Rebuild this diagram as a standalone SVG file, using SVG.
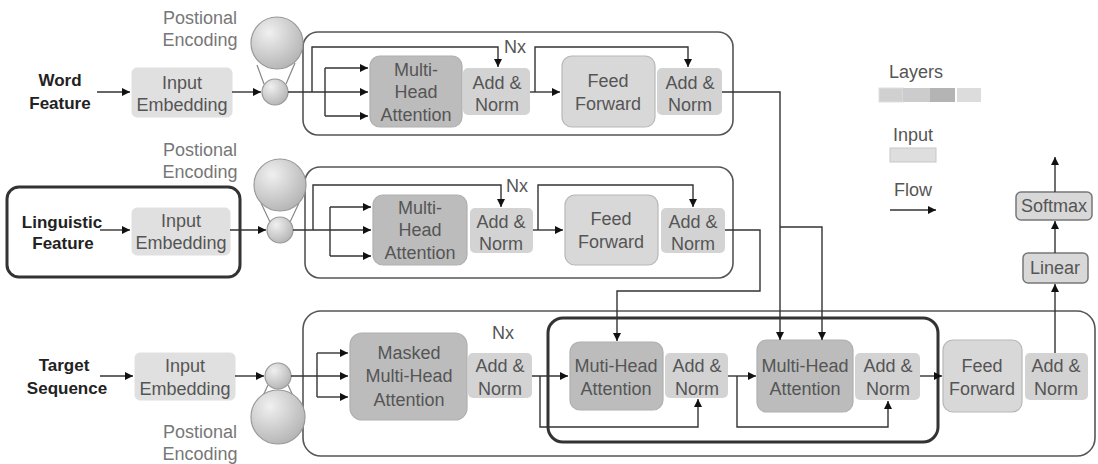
<svg xmlns="http://www.w3.org/2000/svg" width="1098" height="464" viewBox="0 0 1098 464">
<defs>
<marker id="ah" viewBox="0 0 10 10" refX="10" refY="5" markerWidth="9" markerHeight="8" markerUnits="userSpaceOnUse" orient="auto"><path d="M0,0 L10,5 L0,10 z" fill="#111"/></marker>
<radialGradient id="cg" cx="0.35" cy="0.3" r="0.8"><stop offset="0" stop-color="#f0f0f0"/><stop offset="1" stop-color="#b0b0b0"/></radialGradient>
</defs>
<style>
text{font-family:"Liberation Sans",Arial,sans-serif;font-size:18px;fill:#555;text-anchor:middle}
.b{font-weight:bold;fill:#222;font-size:17px}
.pe{fill:#777}
.cont{fill:none;stroke:#555;stroke-width:1.6}
.thick{fill:none;stroke:#333;stroke-width:3}
.ie{fill:#e0e0e0;stroke:#e0e0e0}
.mha{fill:#bcbcbc;stroke:#b0b0b0;stroke-width:1.2}
.an{fill:#d3d3d3}
.ff{fill:#d8d8d8;stroke:#b8b8b8;stroke-width:1.2}
.sm{fill:#d8d8d8;stroke:#777;stroke-width:1.5}
.circ{fill:url(#cg);stroke:#999;stroke-width:1.2}
.fl{stroke:#888;stroke-width:1.2;fill:none}
#connectors path{fill:none;stroke:#333;stroke-width:1.4}
.a{marker-end:url(#ah)}
</style>
<rect width="1098" height="464" fill="#fff"/>

<!-- Containers -->
<g id="encoder1"><rect class="cont" x="303" y="32" width="430" height="103" rx="15"/></g>
<g id="encoder2"><rect class="cont" x="305" y="167" width="428" height="111" rx="15"/></g>
<g id="decoder"><rect class="cont" x="303" y="311" width="792" height="145" rx="18"/></g>
<g id="ling-highlight"><rect class="thick" x="7" y="187" width="233" height="90" rx="12"/></g>
<g id="dec-highlight"><rect class="thick" x="548" y="318" width="390" height="124" rx="15"/></g>

<!-- Row 1 -->
<g id="word-feature"><text class="b" x="60" y="86">Word</text><text class="b" x="60" y="109">Feature</text></g>
<g id="ie1"><rect class="ie" x="132" y="68" width="100" height="49" rx="5"/><text x="182" y="89">Input</text><text x="182" y="111">Embedding</text></g>
<g id="pe1"><text class="pe" x="200" y="24">Postional</text><text class="pe" x="200" y="46">Encoding</text>
<line class="fl" x1="264" y1="84" x2="257" y2="65"/><line class="fl" x1="286" y1="84" x2="295" y2="63"/>
<circle class="circ" cx="277" cy="43" r="26"/><circle class="circ" cx="275" cy="92" r="13"/></g>
<g id="mha1"><rect class="mha" x="370" y="56" width="92" height="71" rx="10"/><text x="416" y="76">Multi-</text><text x="416" y="98">Head</text><text x="416" y="121">Attention</text></g>
<g id="an1a"><rect class="an" x="463" y="68" width="67" height="47" rx="5"/><text x="497" y="89">Add &amp;</text><text x="497" y="111">Norm</text></g>
<g id="nx1"><text x="515" y="53">Nx</text></g>
<g id="ff1"><rect class="ff" x="562" y="56" width="93" height="71" rx="10"/><text x="608" y="87">Feed</text><text x="608" y="110">Forward</text></g>
<g id="an1b"><rect class="an" x="657" y="68" width="65" height="47" rx="5"/><text x="690" y="89">Add &amp;</text><text x="690" y="111">Norm</text></g>

<!-- Row 2 -->
<g id="ling-feature"><text class="b" x="62" y="228">Linguistic</text><text class="b" x="63" y="249">Feature</text></g>
<g id="ie2"><rect class="ie" x="132" y="208" width="98" height="47" rx="5"/><text x="181" y="227">Input</text><text x="181" y="249">Embedding</text></g>
<g id="pe2"><text class="pe" x="200" y="156">Postional</text><text class="pe" x="200" y="178">Encoding</text>
<line class="fl" x1="270" y1="222" x2="261" y2="203"/><line class="fl" x1="290" y1="222" x2="299" y2="203"/>
<circle class="circ" cx="280" cy="185" r="26"/><circle class="circ" cx="280" cy="230" r="13"/></g>
<g id="mha2"><rect class="mha" x="373" y="195" width="94" height="70" rx="10"/><text x="420" y="214">Multi-</text><text x="420" y="236">Head</text><text x="420" y="259">Attention</text></g>
<g id="an2a"><rect class="an" x="470" y="208" width="63" height="45" rx="5"/><text x="501" y="228">Add &amp;</text><text x="501" y="250">Norm</text></g>
<g id="nx2"><text x="517" y="192">Nx</text></g>
<g id="ff2"><rect class="ff" x="565" y="195" width="93" height="70" rx="10"/><text x="611" y="225">Feed</text><text x="611" y="248">Forward</text></g>
<g id="an2b"><rect class="an" x="661" y="208" width="64" height="45" rx="5"/><text x="693" y="228">Add &amp;</text><text x="693" y="250">Norm</text></g>

<!-- Row 3 -->
<g id="target-seq"><text class="b" x="64" y="371">Target</text><text class="b" x="67" y="394">Sequence</text></g>
<g id="ie3"><rect class="ie" x="135" y="353" width="100" height="47" rx="5"/><text x="185" y="372">Input</text><text x="185" y="395">Embedding</text></g>
<g id="pe3"><text class="pe" x="200" y="438">Postional</text><text class="pe" x="200" y="460">Encoding</text>
<line class="fl" x1="268" y1="385" x2="262" y2="398"/><line class="fl" x1="288" y1="385" x2="294" y2="398"/>
<circle class="circ" cx="278" cy="417" r="27"/><circle class="circ" cx="278" cy="376" r="13"/></g>
<g id="mmha"><rect class="mha" x="350" y="333" width="117" height="87" rx="12"/><text x="409" y="359">Masked</text><text x="409" y="382">Multi-Head</text><text x="409" y="406">Attention</text></g>
<g id="nx3"><text x="503" y="339">Nx</text></g>
<g id="an3a"><rect class="an" x="468" y="353" width="64" height="45" rx="5"/><text x="500" y="372">Add &amp;</text><text x="500" y="395">Norm</text></g>
<g id="mha3"><rect class="mha" x="570" y="342" width="93" height="68" rx="10"/><text x="616" y="372">Muti-Head</text><text x="616" y="395">Attention</text></g>
<g id="an3b"><rect class="an" x="665" y="353" width="63" height="45" rx="5"/><text x="697" y="372">Add &amp;</text><text x="697" y="395">Norm</text></g>
<g id="mha4"><rect class="mha" x="757" y="340" width="96" height="72" rx="10"/><text x="805" y="372">Multi-Head</text><text x="805" y="395">Attention</text></g>
<g id="an3c"><rect class="an" x="855" y="353" width="65" height="47" rx="5"/><text x="888" y="372">Add &amp;</text><text x="888" y="395">Norm</text></g>
<g id="ff3"><rect class="ff" x="943" y="340" width="79" height="72" rx="10"/><text x="982" y="372">Feed</text><text x="982" y="395">Forward</text></g>
<g id="an3d"><rect class="an" x="1025" y="353" width="63" height="47" rx="5"/><text x="1056" y="372">Add &amp;</text><text x="1056" y="395">Norm</text></g>
<g id="linear"><rect class="sm" x="1023" y="253" width="65" height="30" rx="5"/><text x="1055" y="274">Linear</text></g>
<g id="softmax"><rect class="sm" x="1016" y="192" width="76" height="28" rx="5"/><text x="1054" y="212">Softmax</text></g>

<!-- Legend -->
<g id="legend">
<text x="916" y="78">Layers</text>
<rect x="879" y="88" width="24" height="14" fill="#d0d0d0" stroke="#e0e0e0"/>
<rect x="903" y="88" width="27" height="14" fill="#cccccc"/>
<rect x="930" y="88" width="25" height="14" fill="#b4b4b4"/>
<rect x="957" y="88" width="24" height="14" fill="#dcdcdc"/>
<text x="913" y="141">Input</text>
<rect x="890" y="148" width="46" height="14" fill="#dedede" stroke="#c8c8c8"/>
<text x="913" y="196">Flow</text>
<path d="M890,210 H936" stroke="#333" stroke-width="1.4" marker-end="url(#ah)"/>
</g>

<!-- Connectors -->
<g id="connectors">
<path class="a" d="M97,92 H130"/>
<path class="a" d="M232,92 H261"/>
<path class="a" d="M288,92 H368"/>
<path d="M325,68 V116"/>
<path class="a" d="M325,68 H368"/>
<path class="a" d="M325,116 H368"/>
<path class="a" d="M312,92 V47 H498 V67"/>
<path class="a" d="M530,92 H560"/>
<path class="a" d="M535,92 V47 H688 V67"/>
<path class="a" d="M722,92 H780 V340"/>
<path class="a" d="M780,227 H822 V340"/>

<path class="a" d="M100,230 H130"/>
<path class="a" d="M230,230 H266"/>
<path class="a" d="M293,230 H371"/>
<path d="M330,207 V256"/>
<path class="a" d="M330,207 H371"/>
<path class="a" d="M330,256 H371"/>
<path class="a" d="M313,230 V185 H501 V207"/>
<path class="a" d="M533,230 H563"/>
<path class="a" d="M538,230 V185 H693 V207"/>
<path class="a" d="M725,230 H760 V291 H617 V341"/>

<path class="a" d="M100,376 H133"/>
<path class="a" d="M235,376 H264"/>
<path class="a" d="M291,376 H348"/>
<path d="M317,353 V397"/>
<path class="a" d="M317,353 H348"/>
<path class="a" d="M317,397 H348"/>
<path class="a" d="M532,376 H568"/>
<path class="a" d="M540,376 V427 H698 V399"/>
<path class="a" d="M728,376 H756"/>
<path class="a" d="M737,376 V427 H888 V401"/>
<path class="a" d="M920,376 H942"/>
<path class="a" d="M1055,353 V284"/>
<path class="a" d="M1055,253 V221"/>
<path class="a" d="M1055,192 V157"/>
</g>
</svg>
